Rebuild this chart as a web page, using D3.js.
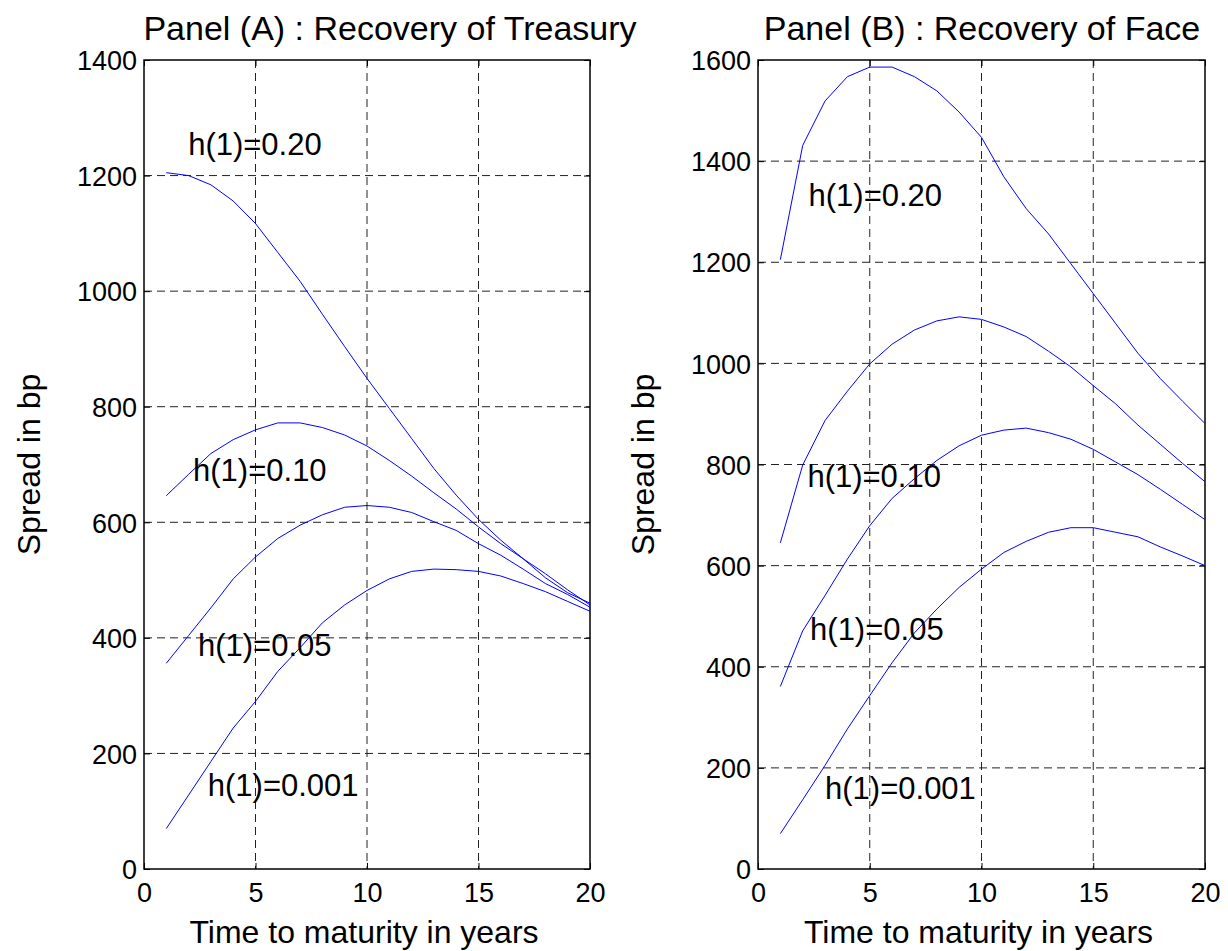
<!DOCTYPE html>
<html>
<head>
<meta charset="utf-8">
<script src="https://cdn.jsdelivr.net/npm/d3@7"></script>
<style>
  html, body { margin: 0; padding: 0; background: #fff; }
  svg { display: block; font-family: "Liberation Sans", Arial, Helvetica, sans-serif; }
</style>
</head>
<body>
<svg id="chart" width="1228" height="951"></svg>
<script>
// ---------- data ----------
const years = [1,2,3,4,5,6,7,8,9,10,11,12,13,14,15,16,17,18,19,20];

// Panel A : Recovery of Treasury (spread in bp)
const treasuryH020  = [1205,1200,1184,1156,1117,1067,1017,960,904,849,797,745,693,647,605,569,537,504,478,460];
const treasuryH010  = [646,683,719,743,760,772,772,764,751,732,707,680,651,623,592,563,537,511,483,457];
const treasuryH005  = [356,404,452,502,540,572,595,613,626,629,626,617,601,586,563,543,519,494,475,453];
const treasuryH0001 = [70,128,186,244,290,342,383,426,457,482,502,515,519,518,515,507,494,480,463,446];

// Panel B : Recovery of Face (spread in bp)
const faceH020  = [1205,1431,1519,1567,1586,1586,1567,1539,1497,1447,1369,1306,1256,1197,1138,1079,1020,970,925,881];
const faceH010  = [645,799,887,945,999,1038,1066,1084,1092,1087,1072,1053,1024,993,956,920,878,840,802,766];
const faceH005  = [361,471,541,613,679,733,772,808,837,858,868,872,863,850,830,805,780,751,721,691];
const faceH0001 = [70,137,205,277,343,408,467,514,557,593,626,648,666,675,675,666,657,637,619,600];

const curveLabels = ["h(1)=0.20","h(1)=0.10","h(1)=0.05","h(1)=0.001"];
// label anchor points in data coordinates (x in years, y in bp)
const labelXA = [1.98, 2.2, 2.42, 2.86];
const labelYA = [1255, 690, 388, 145];
const labelXB = [2.26, 2.21, 2.33, 3.0];
const labelYB = [1333, 777, 475, 160];

const xTicks = [0,5,10,15,20];
const yTicksA = [0,200,400,600,800,1000,1200,1400];
const yTicksB = [0,200,400,600,800,1000,1200,1400,1600];

const titles = ["Panel (A) : Recovery of Treasury", "Panel (B) : Recovery of Face"];
const xLabel = "Time to maturity in years";
const yLabel = "Spread in bp";

// ---------- drawing ----------
const svg = d3.select("#chart");

const panels = [
  { series: [treasuryH020, treasuryH010, treasuryH005, treasuryH0001],
    lx: labelXA, ly: labelYA, yMax: 1400, yTicks: yTicksA,
    x0: 144, x1: 590, title: titles[0], titleX: 390 },
  { series: [faceH020, faceH010, faceH005, faceH0001],
    lx: labelXB, ly: labelYB, yMax: 1600, yTicks: yTicksB,
    x0: 758, x1: 1205, title: titles[1], titleX: 982 }
];

const plotTop = 60, plotBottom = 869;

panels.forEach(p => {
  const x = d3.scaleLinear().domain([0, 20]).range([p.x0, p.x1]);
  const y = d3.scaleLinear().domain([0, p.yMax]).range([plotBottom, plotTop]);
  const g = svg.append("g");

  // grid
  g.append("g").selectAll("line")
    .data(xTicks.filter(t => t > 0 && t < 20)).enter().append("line")
    .attr("x1", d => x(d)).attr("x2", d => x(d))
    .attr("y1", plotTop).attr("y2", plotBottom)
    .attr("stroke", "#222").attr("stroke-width", 1).attr("stroke-dasharray", "8,5");
  g.append("g").selectAll("line")
    .data(p.yTicks.filter(t => t > 0 && t < p.yMax)).enter().append("line")
    .attr("x1", p.x0).attr("x2", p.x1)
    .attr("y1", d => y(d)).attr("y2", d => y(d))
    .attr("stroke", "#222").attr("stroke-width", 1).attr("stroke-dasharray", "8,5");

  // axes with inward ticks
  const xAxisB = d3.axisBottom(x).tickValues(xTicks).tickSize(-6).tickPadding(14).tickFormat(d3.format("d"));
  const xAxisT = d3.axisTop(x).tickValues(xTicks).tickSize(-6).tickFormat("");
  const yAxisL = d3.axisLeft(y).tickValues(p.yTicks).tickSize(-6).tickPadding(7).tickFormat(d3.format("d"));
  const yAxisR = d3.axisRight(y).tickValues(p.yTicks).tickSize(-6).tickFormat("");

  const styleAxis = sel => {
    sel.select(".domain").remove();
    sel.selectAll(".tick line").attr("stroke", "#000").attr("stroke-width", 1);
    sel.selectAll(".tick text").attr("font-size", 27).attr("fill", "#000")
      .attr("font-family", "Liberation Sans, Arial, sans-serif");
  };
  g.append("g").attr("transform", `translate(0,${plotBottom})`).call(xAxisB).call(styleAxis);
  g.append("g").attr("transform", `translate(0,${plotTop})`).call(xAxisT).call(styleAxis);
  g.append("g").attr("transform", `translate(${p.x0},0)`).call(yAxisL).call(styleAxis)
    .selectAll(".tick text").attr("dy", "0.36em");
  g.append("g").attr("transform", `translate(${p.x1},0)`).call(yAxisR).call(styleAxis);

  // box
  g.append("rect").attr("x", p.x0).attr("y", plotTop)
    .attr("width", p.x1 - p.x0).attr("height", plotBottom - plotTop)
    .attr("fill", "none").attr("stroke", "#000").attr("stroke-width", 1.5);

  // curves
  const line = d3.line().x((d, i) => x(years[i])).y(d => y(d));
  p.series.forEach(s => {
    g.append("path").datum(s).attr("d", line)
      .attr("fill", "none").attr("stroke", "#0000ff").attr("stroke-width", 1);
  });

  // curve labels
  curveLabels.forEach((t, i) => {
    g.append("text").attr("x", x(p.lx[i])).attr("y", y(p.ly[i]))
      .attr("dy", "0.36em").attr("font-size", 31).attr("fill", "#000").text(t);
  });

  // title
  g.append("text").attr("x", p.titleX).attr("y", 40)
    .attr("text-anchor", "middle").attr("font-size", 34).attr("fill", "#000").text(p.title);

  // x label
  g.append("text").attr("x", (p.x0 + p.x1) / 2 - 3).attr("y", 943)
    .attr("text-anchor", "middle").attr("font-size", 32).attr("fill", "#000").text(xLabel);

  // y label
  g.append("text")
    .attr("transform", `translate(${p.x0 - 104},${(plotTop + plotBottom) / 2}) rotate(-90)`)
    .attr("text-anchor", "middle").attr("font-size", 32).attr("fill", "#000").text(yLabel);
});
</script>
</body>
</html>
